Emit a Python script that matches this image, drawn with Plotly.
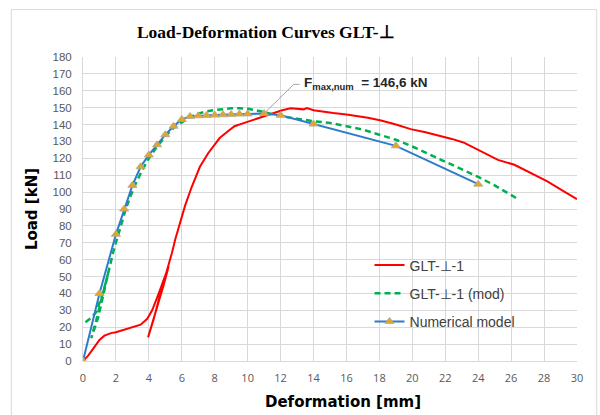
import plotly.graph_objects as go

# ---- data ----
red_x = [0, 0.3, 0.6, 1.0, 1.3, 1.7, 2.0, 2.5, 3.0, 3.5, 3.9, 4.2, 4.6, 4.9, 5.1, 5.2,
         4.9, 4.5, 4.2, 3.95, 4.3, 4.7, 5.0, 5.2, 5.4, 5.6, 5.9, 6.2, 6.6, 7.1, 7.6, 8.0,
         8.3, 8.8, 9.2, 9.8, 10.4, 11.0, 11.6, 12.1, 12.6, 13.0, 13.4, 13.6, 14.0, 15.2,
         16.0, 17.3, 18.1, 19.0, 19.9, 20.8, 21.7, 22.4, 23.1, 24.0, 25.2, 26.2, 27.2,
         28.2, 29.2, 30.0]
red_y = [0, 3, 7, 12.5, 15, 16.5, 17, 18.5, 20, 21.5, 25, 30, 40, 48, 53, 56,
         45, 32, 22, 14, 25, 40, 50, 56, 64, 72, 82, 92, 103, 115, 123, 128,
         132, 136, 139, 141, 143, 145, 146.8, 148.5, 149.6, 149.5, 149, 149.8, 148.5, 146.8,
         146, 144, 142.4, 140, 137.3, 135.5, 133.4, 131.5, 129.4, 125, 119.1, 116.2, 111,
         106.3, 100.5, 95.8]

mod_x = [0.15, 0.5, 0.8, 1.1, 1.4, 1.6, 1.3, 0.9, 0.5, 0.8, 1.1, 1.4, 1.6, 1.85, 2.1,
         2.35, 2.6, 2.9, 3.2, 3.6, 4.0, 4.5, 5.0, 5.5, 6.0, 6.5, 7.0, 7.5, 8.0, 8.5, 9.0,
         9.5, 10.0, 10.5, 11.0, 11.5, 12.0, 13.0, 14.0, 15.0, 16.0, 17.0, 18.0, 19.0, 20.0,
         21.0, 22.0, 23.0, 24.0, 25.0, 26.0, 26.3]
mod_y = [23, 25.5, 29, 37, 47, 55, 42, 25, 13.5, 24, 35, 47, 55, 65, 73,
         82, 90, 98, 105, 113, 120, 127, 133, 138, 141.5, 144.5, 146.5, 147.8, 148.6, 149.2, 149.6,
         149.7, 149.4, 148.5, 147.2, 146, 145, 143.5, 142, 141, 139, 137, 134, 131, 127,
         122.5, 118, 113.5, 109, 104, 98, 96.5]

num_x = [0, 1, 2, 2.5, 3, 3.5, 4, 4.5, 5, 5.5, 6, 6.5, 7, 7.5, 8, 8.5, 9, 9.5, 10, 11,
         12, 14, 19, 24]
num_y = [0, 40, 75, 90, 104, 115, 122, 128, 134, 139, 143, 144.8, 145.2, 145.4, 145.6,
         145.8, 146, 146.2, 146.3, 146.6, 145.5, 140.3, 127.4, 104.7]

x_ticks = list(range(0, 31, 2))
y_ticks = list(range(0, 181, 10))
fmax_label = "<b>F<sub>max,num</sub>  = 146,6 kN</b>"
fmax_point = (11, 146.6)

fig = go.Figure()
fig.add_trace(go.Scatter(x=red_x, y=red_y, mode="lines", name="GLT-⊥-1",
                         legendgroup="a",
                         line=dict(color="#FF0000", width=2)))
fig.add_trace(go.Scatter(x=mod_x, y=mod_y, mode="lines", name="GLT-⊥-1 (mod)",
                         legendgroup="b",
                         line=dict(color="#00B050", width=2.5, dash="6px,4px")))
fig.add_trace(go.Scatter(x=num_x, y=num_y, mode="lines+markers", name="Numerical model",
                         legendgroup="c",
                         line=dict(color="#2E7BCB", width=2),
                         marker=dict(symbol="triangle-up", size=8, color="#E3A52A",
                                     line=dict(color="#B0A890", width=0.8))))

# leader line of the F_max annotation
fig.add_shape(type="path", xref="x", yref="y",
              path=f"M {fmax_point[0]},{fmax_point[1]} L 12.8,163.8 L 13.15,163.8",
              line=dict(color="#A6A6A6", width=1))
fig.add_annotation(x=13.3, y=164.5, xref="x", yref="y", text=fmax_label,
                   showarrow=False, xanchor="left", yanchor="middle",
                   font=dict(family="Liberation Sans, Arial", size=13.5, color="#262626"))

# axis titles
fig.add_annotation(x=0.527, y=-0.134, xref="paper", yref="paper",
                   text="<b>Deformation [mm]</b>", showarrow=False,
                   xanchor="center", yanchor="middle",
                   font=dict(family="DejaVu Sans", size=15, color="#000000"))
fig.add_annotation(x=-0.103, y=0.5, xref="paper", yref="paper",
                   text="<b>Load [kN]</b>", showarrow=False, textangle=-90,
                   xanchor="center", yanchor="middle",
                   font=dict(family="DejaVu Sans", size=15, color="#000000"))

# chart border
fig.add_shape(type="rect", xref="paper", yref="paper",
              x0=-0.145, x1=1.040, y0=-0.2, y1=1.156,
              line=dict(color="#D9D9D9", width=1), layer="below")

fig.update_layout(
    width=600, height=415,
    margin=dict(l=83, r=23, t=57, b=54),
    paper_bgcolor="white", plot_bgcolor="white",
    title=dict(text="<b>Load-Deformation Curves GLT-⊥</b>",
               x=0.443, xref="container", xanchor="center",
               y=0.922, yref="container", yanchor="middle",
               font=dict(family="Liberation Serif, Times New Roman", size=17.5, color="#000000")),
    xaxis=dict(range=[0, 30], tickvals=x_ticks, showgrid=True, gridcolor="#D9D9D9",
               gridwidth=1, zeroline=False, showline=True, linecolor="#D9D9D9",
               ticks="outside", ticklen=7, tickcolor="rgba(0,0,0,0)",
               tickfont=dict(family="Open Sans", size=11, color="#595959")),
    yaxis=dict(range=[0, 180], tickvals=y_ticks, showgrid=True, gridcolor="#D9D9D9",
               gridwidth=1, zeroline=False, showline=True, linecolor="#D9D9D9",
               ticks="outside", ticklen=8, tickcolor="rgba(0,0,0,0)",
               tickfont=dict(family="Liberation Sans, Arial", size=11.5, color="#595959")),
    legend=dict(x=0.58, y=0.367, xanchor="left", yanchor="top",
                bgcolor="rgba(0,0,0,0)", tracegroupgap=7,
                font=dict(family="Liberation Sans, Arial", size=14, color="#404040")),
    showlegend=True,
)

fig.write_html("out.html")
